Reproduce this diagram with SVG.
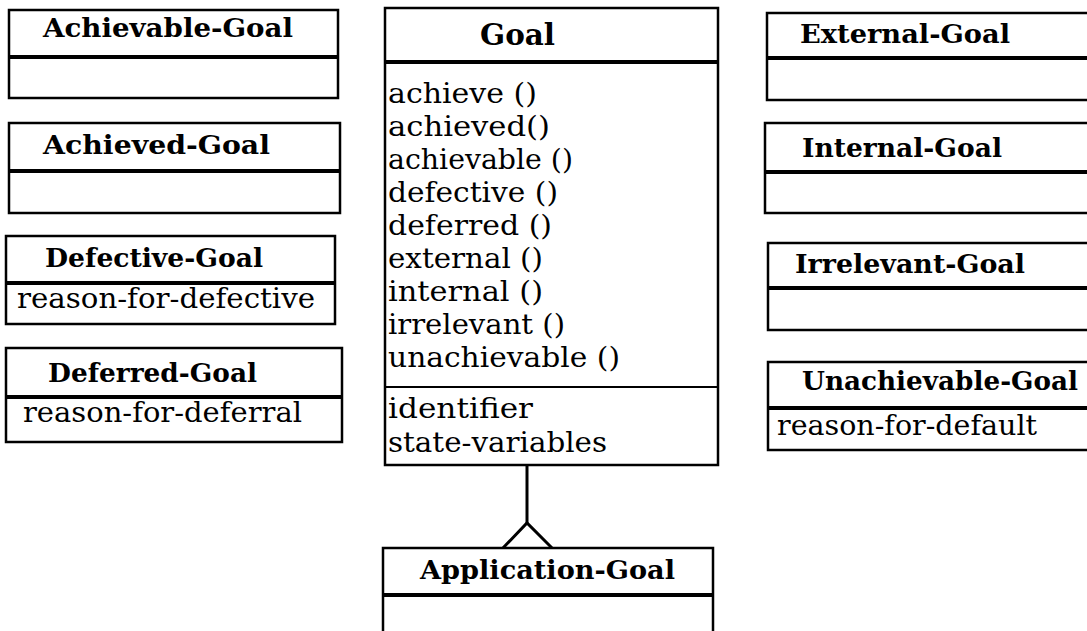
<svg xmlns="http://www.w3.org/2000/svg" width="1087" height="631" viewBox="0 0 1087 631">
<style>
.box{fill:#fff;stroke:#000;stroke-width:2.5}
.hd{stroke:#000;stroke-width:4}
.thin{stroke:#000;stroke-width:2}
.t{font-family:"DejaVu Serif","Liberation Serif",serif;font-weight:bold;font-size:26px;fill:#000}
.a{font-family:"DejaVu Serif","Liberation Serif",serif;font-size:27px;fill:#000}
.conn{stroke:#000;stroke-width:3;fill:none}
</style>
<rect width="1087" height="631" fill="#fff"/>
<g id="achievable-goal">
<rect class="box" x="9" y="10" width="329" height="88"/>
<line class="hd" x1="9" y1="57" x2="338" y2="57"/>
<text class="t" x="43" y="37" textLength="250" lengthAdjust="spacingAndGlyphs">Achievable-Goal</text>
</g>
<g id="achieved-goal">
<rect class="box" x="9" y="123" width="331" height="90"/>
<line class="hd" x1="9" y1="171" x2="340" y2="171"/>
<text class="t" x="43" y="154" textLength="227" lengthAdjust="spacingAndGlyphs">Achieved-Goal</text>
</g>
<g id="defective-goal">
<rect class="box" x="6" y="236" width="329" height="88"/>
<line class="hd" x1="6" y1="283" x2="335" y2="283"/>
<text class="t" x="45" y="267" textLength="218" lengthAdjust="spacingAndGlyphs">Defective-Goal</text>
<text class="a" x="17" y="308" textLength="298" lengthAdjust="spacingAndGlyphs">reason-for-defective</text>
</g>
<g id="deferred-goal">
<rect class="box" x="6" y="348" width="336" height="94"/>
<line class="hd" x1="6" y1="397" x2="342" y2="397"/>
<text class="t" x="48" y="382" textLength="209" lengthAdjust="spacingAndGlyphs">Deferred-Goal</text>
<text class="a" x="23" y="422" textLength="279" lengthAdjust="spacingAndGlyphs">reason-for-deferral</text>
</g>
<g id="goal">
<rect class="box" x="385" y="8" width="333" height="457"/>
<line class="hd" x1="385" y1="62" x2="718" y2="62"/>
<line class="thin" x1="385" y1="387" x2="718" y2="387"/>
<text class="t" x="480" y="45" style="font-size:29px" textLength="75" lengthAdjust="spacingAndGlyphs">Goal</text>
<text class="a" x="388" y="103" textLength="149" lengthAdjust="spacingAndGlyphs">achieve ()</text>
<text class="a" x="388" y="136" textLength="162" lengthAdjust="spacingAndGlyphs">achieved()</text>
<text class="a" x="388" y="169" textLength="185" lengthAdjust="spacingAndGlyphs">achievable ()</text>
<text class="a" x="388" y="202" textLength="170" lengthAdjust="spacingAndGlyphs">defective ()</text>
<text class="a" x="388" y="235" textLength="164" lengthAdjust="spacingAndGlyphs">deferred ()</text>
<text class="a" x="388" y="268" textLength="155" lengthAdjust="spacingAndGlyphs">external ()</text>
<text class="a" x="388" y="301" textLength="155" lengthAdjust="spacingAndGlyphs">internal ()</text>
<text class="a" x="388" y="334" textLength="177" lengthAdjust="spacingAndGlyphs">irrelevant ()</text>
<text class="a" x="388" y="367" textLength="232" lengthAdjust="spacingAndGlyphs">unachievable ()</text>
<text class="a" x="388" y="418" textLength="145" lengthAdjust="spacingAndGlyphs">identifier</text>
<text class="a" x="388" y="452" textLength="219" lengthAdjust="spacingAndGlyphs">state-variables</text>
</g>
<g id="application-goal">
<rect class="box" x="383" y="548" width="330" height="100"/>
<line class="hd" x1="383" y1="595" x2="713" y2="595"/>
<text class="t" x="420" y="579" textLength="255" lengthAdjust="spacingAndGlyphs">Application-Goal</text>
</g>
<g id="external-goal">
<rect class="box" x="767" y="13" width="340" height="87"/>
<line class="hd" x1="767" y1="58" x2="1107" y2="58"/>
<text class="t" x="800" y="43" textLength="210" lengthAdjust="spacingAndGlyphs">External-Goal</text>
</g>
<g id="internal-goal">
<rect class="box" x="765" y="123" width="342" height="90"/>
<line class="hd" x1="765" y1="172" x2="1107" y2="172"/>
<text class="t" x="802" y="157" textLength="200" lengthAdjust="spacingAndGlyphs">Internal-Goal</text>
</g>
<g id="irrelevant-goal">
<rect class="box" x="768" y="243" width="339" height="87"/>
<line class="hd" x1="768" y1="288" x2="1107" y2="288"/>
<text class="t" x="795" y="273" textLength="230" lengthAdjust="spacingAndGlyphs">Irrelevant-Goal</text>
</g>
<g id="unachievable-goal">
<rect class="box" x="768" y="362" width="339" height="88"/>
<line class="hd" x1="768" y1="408" x2="1107" y2="408"/>
<text class="t" x="802" y="390" textLength="276" lengthAdjust="spacingAndGlyphs">Unachievable-Goal</text>
<text class="a" x="777" y="435" textLength="260" lengthAdjust="spacingAndGlyphs">reason-for-default</text>
</g>
<g id="connectors">
<line class="conn" x1="527" y1="465" x2="527" y2="523"/>
<polyline class="conn" points="503,548 527,523 552,548"/>
</g>
</svg>
